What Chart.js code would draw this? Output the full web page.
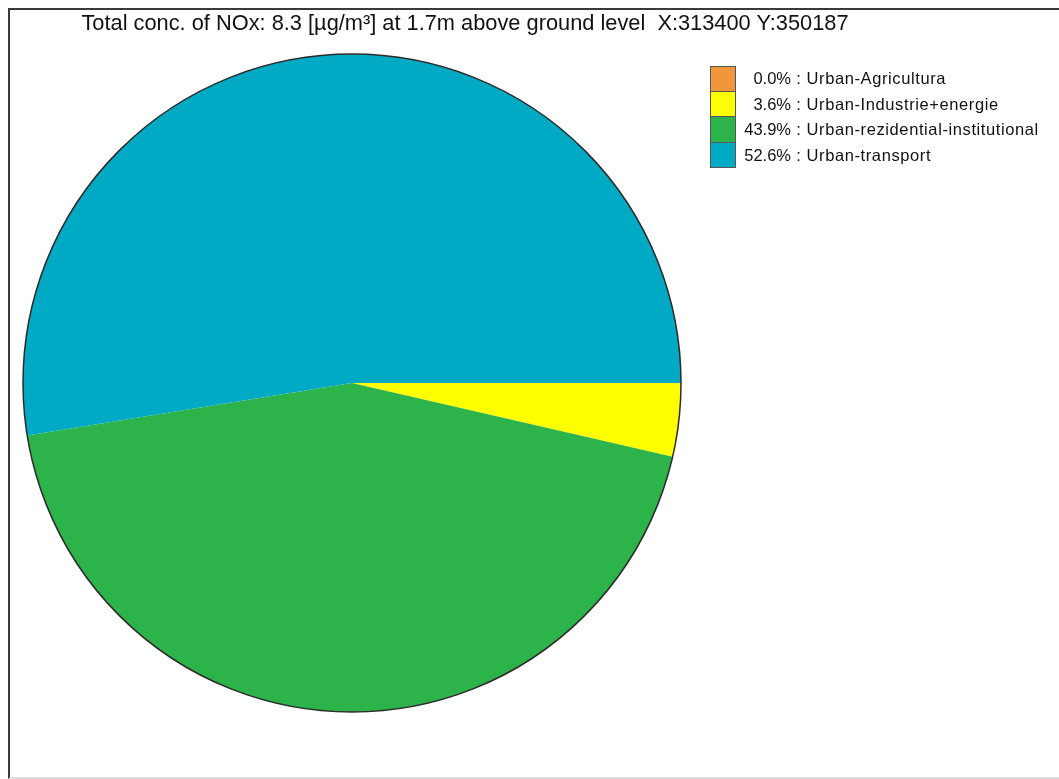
<!DOCTYPE html>
<html>
<head>
<meta charset="utf-8">
<script src="https://cdn.jsdelivr.net/npm/chart.js@4/dist/chart.umd.min.js"></script>
<style>
  html, body { margin: 0; padding: 0; background: #fff; }
  body { width: 1059px; height: 779px; position: relative; overflow: hidden; font-family: "Liberation Sans", Arial, sans-serif; }
  #frame { position: absolute; left: 8px; top: 8px; width: 1100px; height: 767px; border: 2px solid #3a3a3a; border-bottom-color: #ddd; }
  #title { position: absolute; left: 0; width: 930px; top: 10px; text-align: center; font-size: 21.8px; color: #111; white-space: pre; }
  #wrap { position: absolute; left: 0; top: 0; width: 1059px; height: 779px; }
  #legend { position: absolute; left: 710px; top: 66px; }
  .row { display: flex; align-items: center; height: 25.5px; }
  .box { width: 24px; height: 24.5px; border: 1px solid #555; border-top-width: 0; box-sizing: content-box; }
  .row:first-child .box { border-top-width: 1px; height: 23.5px; }
  .pct { width: 55px; text-align: right; font-size: 16.5px; color: #111; }
  .name { font-size: 16.5px; color: #111; white-space: pre; letter-spacing: 0.6px; }
</style>
</head>
<body>
<div id="frame"></div>
<div id="wrap"><canvas id="myChart" width="1059" height="779"></canvas></div>
<div id="title">Total conc. of NOx: 8.3 [µg/m³] at 1.7m above ground level  X:313400 Y:350187</div>
<div id="legend"></div>
<script>
// source categories and their share of total NOx (%)
var categories = ['Urban-Agricultura', 'Urban-Industrie+energie', 'Urban-rezidential-institutional', 'Urban-transport'];
var shares = [0.0, 3.6, 43.9, 52.6];
var colours = ['#F0963C', '#FFFF00', '#2CB34A', '#00AAC4'];

// legend, built from the same arrays
var legend = document.getElementById('legend');
categories.forEach(function (name, i) {
    var row = document.createElement('div');
    row.className = 'row';
    row.innerHTML = '<div class="box" style="background:' + colours[i] + '"></div>' +
        '<span class="pct">' + shares[i].toFixed(1) + '%</span>' +
        '<span class="name"> : ' + name + '</span>';
    legend.appendChild(row);
});

// dark rim round the pie only (no lines between slices)
var rimPlugin = {
    id: 'rim',
    afterDatasetsDraw: function (chart) {
        var arc = chart.getDatasetMeta(0).data[0];
        var ctx = chart.ctx;
        ctx.save();
        ctx.beginPath();
        ctx.arc(arc.x, arc.y, arc.outerRadius, 0, Math.PI * 2);
        ctx.lineWidth = 1.5;
        ctx.strokeStyle = '#2b2b2b';
        ctx.stroke();
        ctx.restore();
    }
};

var ctx = document.getElementById('myChart').getContext('2d');
var chart = new Chart(ctx, {
    type: 'pie',
    data: {
        labels: categories,
        datasets: [{
            data: shares,
            backgroundColor: colours,
            borderWidth: 0
        }]
    },
    options: {
        responsive: false,
        animation: false,
        rotation: 90,
        layout: { padding: { left: 22, top: 54, right: 377, bottom: 67 } },
        plugins: {
            legend: { display: false },
            tooltip: { enabled: false },
            title: { display: false }
        }
    },
    plugins: [rimPlugin]
});
</script>
</body>
</html>
